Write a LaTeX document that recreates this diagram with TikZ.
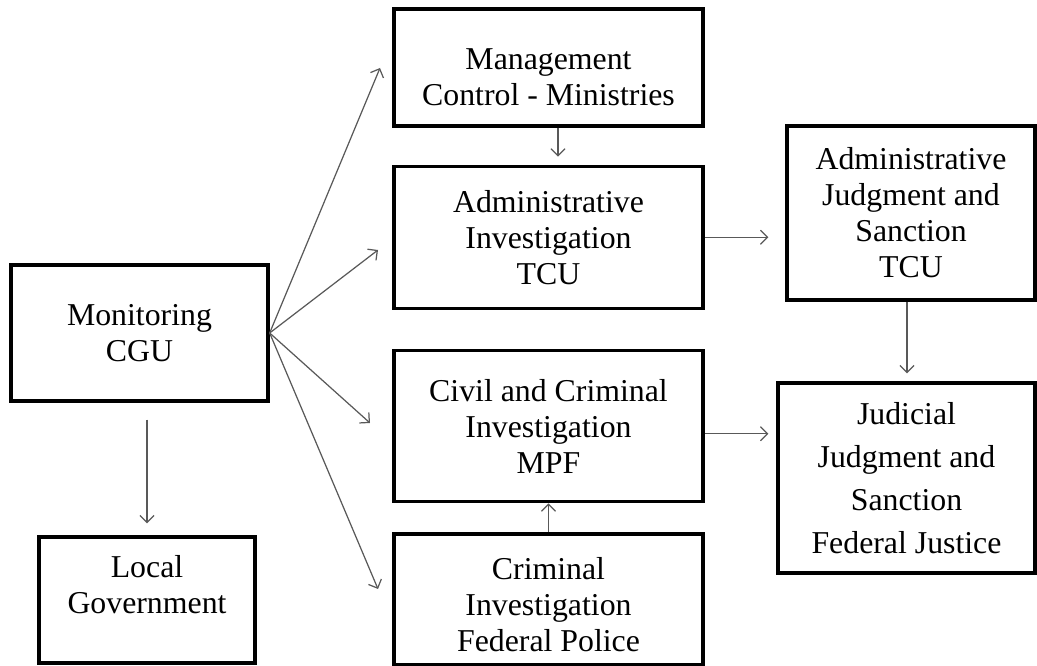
\documentclass[tikz,border=0pt]{standalone}
\usepackage{fontspec}
\setmainfont{Liberation Serif}
\usetikzlibrary{arrows.meta, positioning}
\tikzset{
	box/.style={rectangle, draw=black, line width=1.9pt, fill=white, align=center,
		inner sep=2pt, font=\fontsize{18.1}{20.5}\selectfont},
	cgubox/.style={box, minimum width=5.14cm, minimum height=2.72cm},
	localbox/.style={box, minimum width=4.32cm, minimum height=2.52cm},
	stagebox/.style={box, minimum width=6.18cm},
	judgebox/.style={box, minimum width=4.96cm, minimum height=3.48cm},
	courtbox/.style={box, minimum width=5.14cm, minimum height=3.8cm,
		font=\fontsize{18.1}{24.5}\selectfont},
	arrow/.style={-{Straight Barb[length=4pt,width=8pt]}, draw=black!65, line width=0.7pt},
}
\begin{document}
\begin{tikzpicture}
	\useasboundingbox (0,0) rectangle (20.74,-13.32);
	% left column
	\node[cgubox](cgu) at (2.79,-6.66){Monitoring\\CGU};
	\node[localbox](local) at (2.94,-12.0){Local\\Government\rule[-0.62cm]{0pt}{0pt}};
	% middle column
	\node[stagebox,minimum height=2.34cm](mgmt) at (10.97,-1.35){\rule{0pt}{0.82cm}Management\\Control - Ministries};
	\node[stagebox,minimum height=2.84cm,below=0.74cm of mgmt](adminv){Administrative\\Investigation\\TCU};
	\node[stagebox,minimum height=3.02cm,below=0.78cm of adminv](civil){Civil and Criminal\\Investigation\\MPF};
	\node[stagebox,minimum height=2.62cm,below=0.58cm of civil](police){\rule{0pt}{0.64cm}Criminal\\Investigation\\Federal Police};
	% right column
	\node[judgebox](tcu) at (18.22,-4.26){Administrative\\Judgment and\\Sanction\\TCU};
	\node[courtbox](justice) at (18.13,-9.56){Judicial\\Judgment and\\Sanction\\Federal Justice};
	% free ends of the fan
	\coordinate (tmgmt) at (7.60,-1.36);
	\coordinate (tadminv) at (7.56,-5.00);
	\coordinate (tcivil) at (7.40,-8.46);
	\coordinate (tpolice) at (7.56,-11.78);
	\foreach \t in {tmgmt,tadminv,tcivil,tpolice}
		\draw[arrow](cgu.east)--(\t);
	\draw[arrow,shorten <=0.34cm,shorten >=0.24cm](local.north |- cgu.south)--(local.north);
	\draw[arrow,shorten >=0.16cm]([xshift=0.19cm]mgmt.south)--([xshift=0.19cm]adminv.north);
	\draw[arrow](police.north)--(civil.south);
	\draw[arrow,shorten >=0.34cm](adminv.east)--(adminv.east -| tcu.west);
	\draw[arrow,shorten >=0.16cm]([yshift=-0.15cm]civil.east)--([yshift=-0.15cm]civil.east -| justice.west);
	\draw[arrow,shorten >=0.16cm]([xshift=-0.08cm]tcu.south)--([xshift=-0.08cm]tcu.south |- justice.north);
\end{tikzpicture}
\end{document}
